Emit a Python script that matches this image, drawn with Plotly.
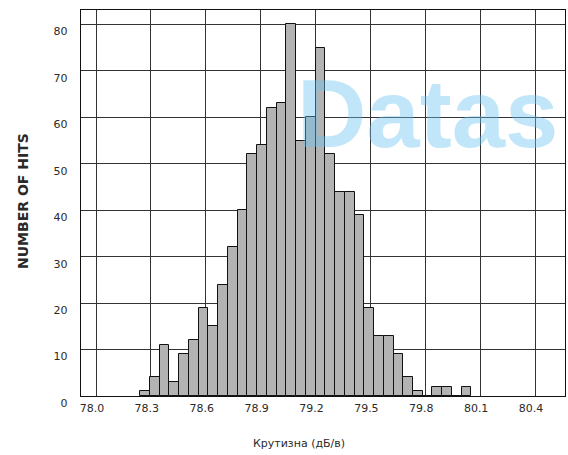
import numpy as np
import plotly.graph_objects as go

# Histogram bins (slope, dB/V) and hit counts per bin
bin_start = 78.2406
bin_width = 0.0533
counts = [1, 4, 11, 3, 9, 12, 19, 15, 24, 32, 40, 52, 54, 62, 63, 80, 55,
          60, 75, 52, 44, 44, 39, 19, 13, 13, 9, 4, 1, 0, 2, 2, 0, 2]
bin_centers = bin_start + bin_width * (np.arange(len(counts)) + 0.5)

x_ticks = [78.0, 78.3, 78.6, 78.9, 79.2, 79.5, 79.8, 80.1, 80.4]
y_ticks = [0, 10, 20, 30, 40, 50, 60, 70, 80]

grid_col = "#333333"
text_col = "#2a2a2a"
tick_font = dict(family="DejaVu Sans", size=11, color=text_col)

fig = go.Figure()
fig.add_trace(go.Bar(
    x=bin_centers, y=counts, width=bin_width,
    marker=dict(color="#b3b3b3", line=dict(color="#111111", width=1)),
    showlegend=False,
))

fig.update_layout(
    width=568, height=455,
    margin=dict(l=81, r=3, t=10, b=59),
    paper_bgcolor="white", plot_bgcolor="white",
    bargap=0,
    xaxis=dict(
        range=[77.918, 80.564], tickvals=x_ticks,
        ticktext=[f"{v:.1f}" for v in x_ticks],
        showgrid=True, gridcolor=grid_col, gridwidth=1.2,
        showline=True, linecolor="#111111", linewidth=1.4, mirror=True,
        ticks="", zeroline=False, tickfont=tick_font,
        ticklabelshift=-4, ticklabelstandoff=2,
    ),
    yaxis=dict(
        range=[0, 83.1], tickvals=y_ticks,
        showgrid=True, gridcolor=grid_col, gridwidth=1.2,
        showline=True, linecolor="#111111", linewidth=1.4, mirror=True,
        ticks="", zeroline=False, tickfont=tick_font,
        ticklabelshift=7, ticklabelstandoff=10,
    ),
    annotations=[
        dict(text="Datas", xref="paper", yref="paper", x=0.442, y=0.733,
             xanchor="left", yanchor="middle", showarrow=False,
             font=dict(family="Liberation Sans", size=96, weight=700,
                       color="rgba(110,195,240,0.42)")),
        dict(text="NUMBER OF HITS", xref="paper", yref="paper",
             x=-0.12, y=0.505, xanchor="center", yanchor="middle",
             textangle=-90, showarrow=False,
             font=dict(family="DejaVu Sans", size=14, weight=700,
                       color=text_col)),
        dict(text="Крутизна (дБ/в)", xref="paper", yref="paper",
             x=0.45, y=-0.122, xanchor="center", yanchor="middle",
             showarrow=False,
             font=dict(family="DejaVu Sans", size=11, color=text_col)),
    ],
)

fig.write_html("out.html")
